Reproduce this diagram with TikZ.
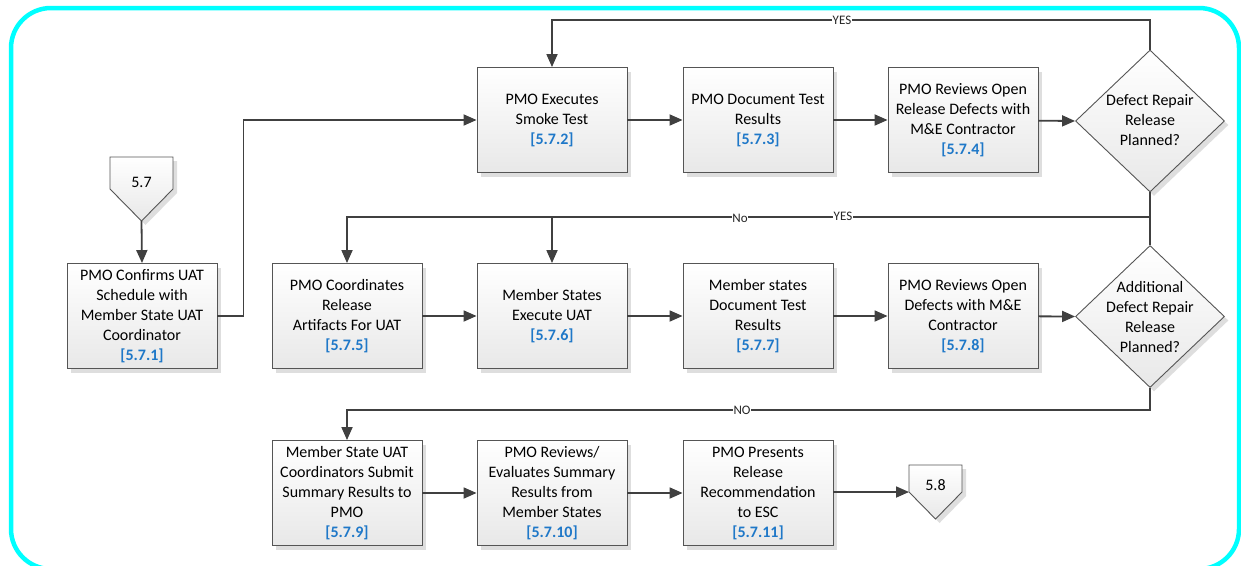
\documentclass[tikz,border=0pt]{standalone}
\usepackage{fontspec}
\setmainfont{Carlito}
\usetikzlibrary{arrows.meta,shapes.geometric,shadows}
\definecolor{lnc}{HTML}{404040}
\definecolor{boxc}{HTML}{555555}
\definecolor{idc}{HTML}{1F78C8}
\definecolor{bordc}{HTML}{00FFFF}
\newcommand\idn[1]{\textcolor{idc}{\textbf{#1}}}
\begin{document}
\begin{tikzpicture}[x=1pt,y=-1pt,
  shd/.style={drop shadow={shadow xshift=4pt,shadow yshift=-4pt,fill=black!13,opacity=1}},
  proc/.style={draw=boxc,line width=0.9pt,top color=white,bottom color=black!9,shd,
    minimum width=150pt,minimum height=105pt,align=center,inner sep=1pt,
    font=\fontsize{16}{20}\selectfont},
  dec/.style={diamond,draw=boxc,line width=0.9pt,top color=white,bottom color=black!9,shd,
    minimum width=149pt,minimum height=142pt,inner sep=0pt},
  dtxt/.style={align=center,font=\fontsize{16}{20}\selectfont,inner sep=0pt},
  pent/.style={draw=boxc,line width=0.9pt,top color=white,bottom color=black!9,shd},
  arr/.style={draw=lnc,line width=1.8pt,-{Triangle[length=13pt,width=11pt]}},
  lbl/.style={font=\fontsize{13}{14}\selectfont,fill=white,inner sep=0.5pt,text=black!85}
]
\useasboundingbox (0,0) rectangle (1241,565);
\begin{scope}
\clip (0,0) rectangle (1241,565);
\draw[bordc,line width=4.5pt,rounded corners=40pt] (11,8) rectangle (1239,569);
\end{scope}

% off-page connectors
\path[pent] (110,157) -- (173,157) -- (173,189) -- (141.5,221) -- (110,189) -- cycle;
\node[font=\fontsize{16}{20}\selectfont] (p57) at (141.5,182) {5.7};
\coordinate (p57tip) at (141.5,221);
\path[pent] (909,465) -- (962,465) -- (962,492) -- (935.5,519) -- (909,492) -- cycle;
\node[font=\fontsize{16}{20}\selectfont] (p58) at (935.5,485) {5.8};
\coordinate (p58l) at (909,492);

% row 1
\node[proc] (b2) at (552,120) {PMO Executes\\Smoke Test\\\idn{[5.7.2]}};
\node[proc] (b3) at (758,120) {PMO Document Test\\Results\\\idn{[5.7.3]}};
\node[proc] (b4) at (963,120) {PMO Reviews Open\\Release Defects with\\M\&E Contractor\\\idn{[5.7.4]}};
\node[dec] (d1) at (1150,121) {};
\node[dtxt] (d1t) at (1150,120) {Defect Repair\\Release\\Planned?};

% row 2
\node[proc] (b1) at (142,316) {PMO Confirms UAT\\Schedule with\\Member State UAT\\Coordinator\\\idn{[5.7.1]}};
\node[proc] (b5) at (347,316) {PMO Coordinates\\Release\\Artifacts For UAT\\\idn{[5.7.5]}};
\node[proc] (b6) at (552,316) {Member States\\Execute UAT\\\idn{[5.7.6]}};
\node[proc] (b7) at (758,316) {Member states\\Document Test\\Results\\\idn{[5.7.7]}};
\node[proc] (b8) at (963,316) {PMO Reviews Open\\Defects with M\&E\\Contractor\\\idn{[5.7.8]}};
\node[dec] (d2) at (1150,316.5) {};
\node[dtxt] (d2t) at (1150,317) {Additional\\Defect Repair\\Release\\Planned?};

% row 3
\node[proc] (b9) at (347,493) {Member State UAT\\Coordinators Submit\\Summary Results to\\PMO\\\idn{[5.7.9]}};
\node[proc] (b10) at (552,493) {PMO Reviews/\\Evaluates Summary\\Results from\\Member States\\\idn{[5.7.10]}};
\node[proc] (b11) at (758,493) {PMO Presents\\Release\\Recommendation\\to ESC\\\idn{[5.7.11]}};

\coordinate (j1) at (1150,217);
\coordinate (j2) at (1150,410);
\coordinate (jt) at (1150,20);

% connectors
\draw[arr] (p57tip) -- (b1.north);
\draw[arr] (b1.east) -- ++(26,0) |- (b2.west);
\draw[arr] (b2) -- (b3);
\draw[arr] (b3) -- (b4);
\draw[arr] (b4) -- (d1.west);
\draw[arr] (d1.north) -- (jt) -| (b2.north);
\draw[arr] (d1.south) -- (j1) -| (b5.north);
\draw[arr] (d2.north) -- (j1) -| (b6.north);
\draw[arr] (b5) -- (b6);
\draw[arr] (b6) -- (b7);
\draw[arr] (b7) -- (b8);
\draw[arr] (b8) -- (d2.west);
\draw[arr] (d2.south) -- (j2) -| (b9.north);
\draw[arr] (b9) -- (b10);
\draw[arr] (b10) -- (b11);
\draw[arr] (b11.east |- p58l) -- (p58l);

% labels
\node[lbl] (lyes1) at (842,20) {YES};
\node[lbl] (lno1) at (740,218) {No};
\node[lbl] (lyes2) at (843,216) {YES};
\node[lbl] (lno2) at (742,410) {NO};
\end{tikzpicture}
\end{document}
